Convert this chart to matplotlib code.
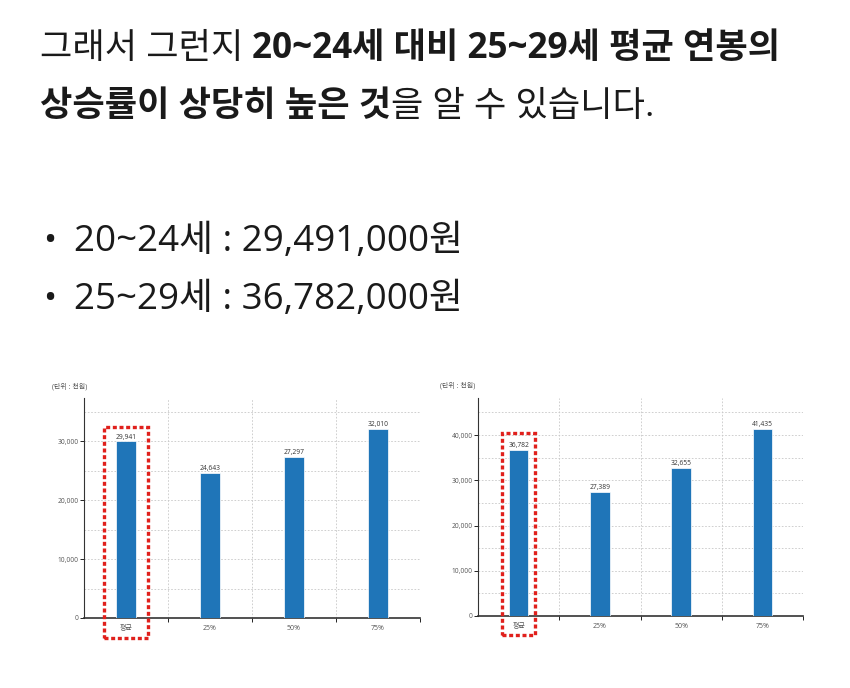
import matplotlib
matplotlib.use('Agg')
import matplotlib.pyplot as plt
from matplotlib.patches import Rectangle
import numpy as np

plt.rcParams['font.family'] = ['Open Sans', 'Noto Sans CJK KR', 'DejaVu Sans']

# 데이터
categories = ['평균', '25%', '50%', '75%']
salary_20_24 = [29941, 24643, 27297, 32010]
salary_25_29 = [36782, 27389, 32655, 41435]
unit_label = '(단위 : 천원)'

line1_regular = '그래서 그런지 '
line1_bold = '20~24세 대비 25~29세 평균 연봉의'
line2_bold = '상승률이 상당히 높은 것'
line2_regular = '을 알 수 있습니다.'
bullets = ['20~24세 : 29,491,000원', '25~29세 : 36,782,000원']

fig = plt.figure(figsize=(8.5, 6.88), dpi=100)
fig.patch.set_facecolor('white')

# 본문 텍스트용 투명 축
tax = fig.add_axes([0, 0, 1, 1])
tax.axis('off')
tax.set_xlim(0, 1)
tax.set_ylim(0, 1)

fs = 25.3
t1 = tax.text(40 / 850, 1 - 49 / 688, line1_regular, fontsize=fs, va='center', color='#1a1a1a')
tax.annotate(line1_bold, xy=(1, 0.5), xycoords=t1, va='center', ha='left',
             fontsize=fs, fontweight='bold', color='#1a1a1a', annotation_clip=False)
t2 = tax.text(40 / 850, 1 - 107 / 688, line2_bold, fontsize=fs, va='center',
              fontweight='bold', color='#1a1a1a')
tax.annotate(line2_regular, xy=(1, 0.5), xycoords=t2, va='center', ha='left',
             fontsize=fs, color='#1a1a1a', annotation_clip=False)
for i, b in enumerate(bullets):
    y = 1 - (242 + 58 * i) / 688
    tax.text(43 / 850, y, '•', fontsize=fs, va='center', color='#1a1a1a')
    tax.text(74 / 850, y, b, fontsize=fs + 1.2, va='center', color='#1a1a1a')


def draw_chart(rect, values, ymax, ytop, ybox, xhalf):
    ax = fig.add_axes(rect)
    x = np.arange(len(values))
    ax.bar(x, values, width=0.24, color='#1f75b8', edgecolor='white', linewidth=0.5, zorder=3)
    for xi, v in zip(x, values):
        ax.text(xi, v + ymax * 0.004, format(v, ','), ha='center', va='bottom',
                fontsize=4.8, color='#333333', zorder=4)
    ax.set_xlim(-0.5, len(values) - 0.5)
    ax.set_ylim(0, ymax)
    ax.set_yticks(np.arange(0, ytop + 1, 10000))
    ax.set_yticklabels([format(int(v), ',') for v in np.arange(0, ytop + 1, 10000)],
                       fontsize=4.8, color='#555555')
    ax.set_yticks(np.arange(5000, ymax, 10000), minor=True)
    ax.set_xticks(np.arange(0.5, len(values), 1.0))
    ax.set_xticklabels([])
    ax.set_xticks(x, minor=True)
    ax.set_xticklabels(categories, minor=True, fontsize=5, color='#555555')
    ax.tick_params(axis='x', which='minor', length=0, pad=5)
    ax.tick_params(axis='x', which='major', length=3, width=0.6)
    ax.tick_params(axis='y', which='major', length=3, width=0.6, pad=1)
    ax.tick_params(axis='y', which='minor', length=0)
    ax.grid(True, which='both', axis='y', linestyle=(0, (2, 2)), color='#c8c8c8', linewidth=0.6, zorder=0)
    ax.grid(True, which='major', axis='x', linestyle=(0, (2, 2)), color='#c8c8c8', linewidth=0.6, zorder=0)
    for s in ['top', 'right']:
        ax.spines[s].set_visible(False)
    ax.spines['left'].set_linewidth(0.8)
    ax.spines['bottom'].set_linewidth(1.2)
    ax.spines['left'].set_color('#333333')
    ax.spines['bottom'].set_color('#333333')
    ax.set_facecolor('white')
    # 평균 강조 박스
    box = Rectangle((-xhalf, ybox[0]), 2 * xhalf, ybox[1] - ybox[0], fill=False,
                    edgecolor='#e0201c', linewidth=2.4, linestyle=(0, (1.2, 0.8)),
                    clip_on=False, zorder=5)
    ax.add_patch(box)
    return ax


ax1 = draw_chart([84 / 850, 1 - 618 / 688, 336 / 850, 220 / 688], salary_20_24,
                 37300, 30000, (-3400, 32400), 0.26)
tax.text(52 / 850, 1 - 387 / 688, unit_label, fontsize=5, color='#555555', va='center')

ax2 = draw_chart([478 / 850, 1 - 616 / 688, 325 / 850, 218 / 688], salary_25_29,
                 48200, 40000, (-4200, 40450), 0.2)
tax.text(440 / 850, 1 - 386 / 688, unit_label, fontsize=5, color='#555555', va='center')

plt.savefig('out.png', dpi=100, facecolor='white')
